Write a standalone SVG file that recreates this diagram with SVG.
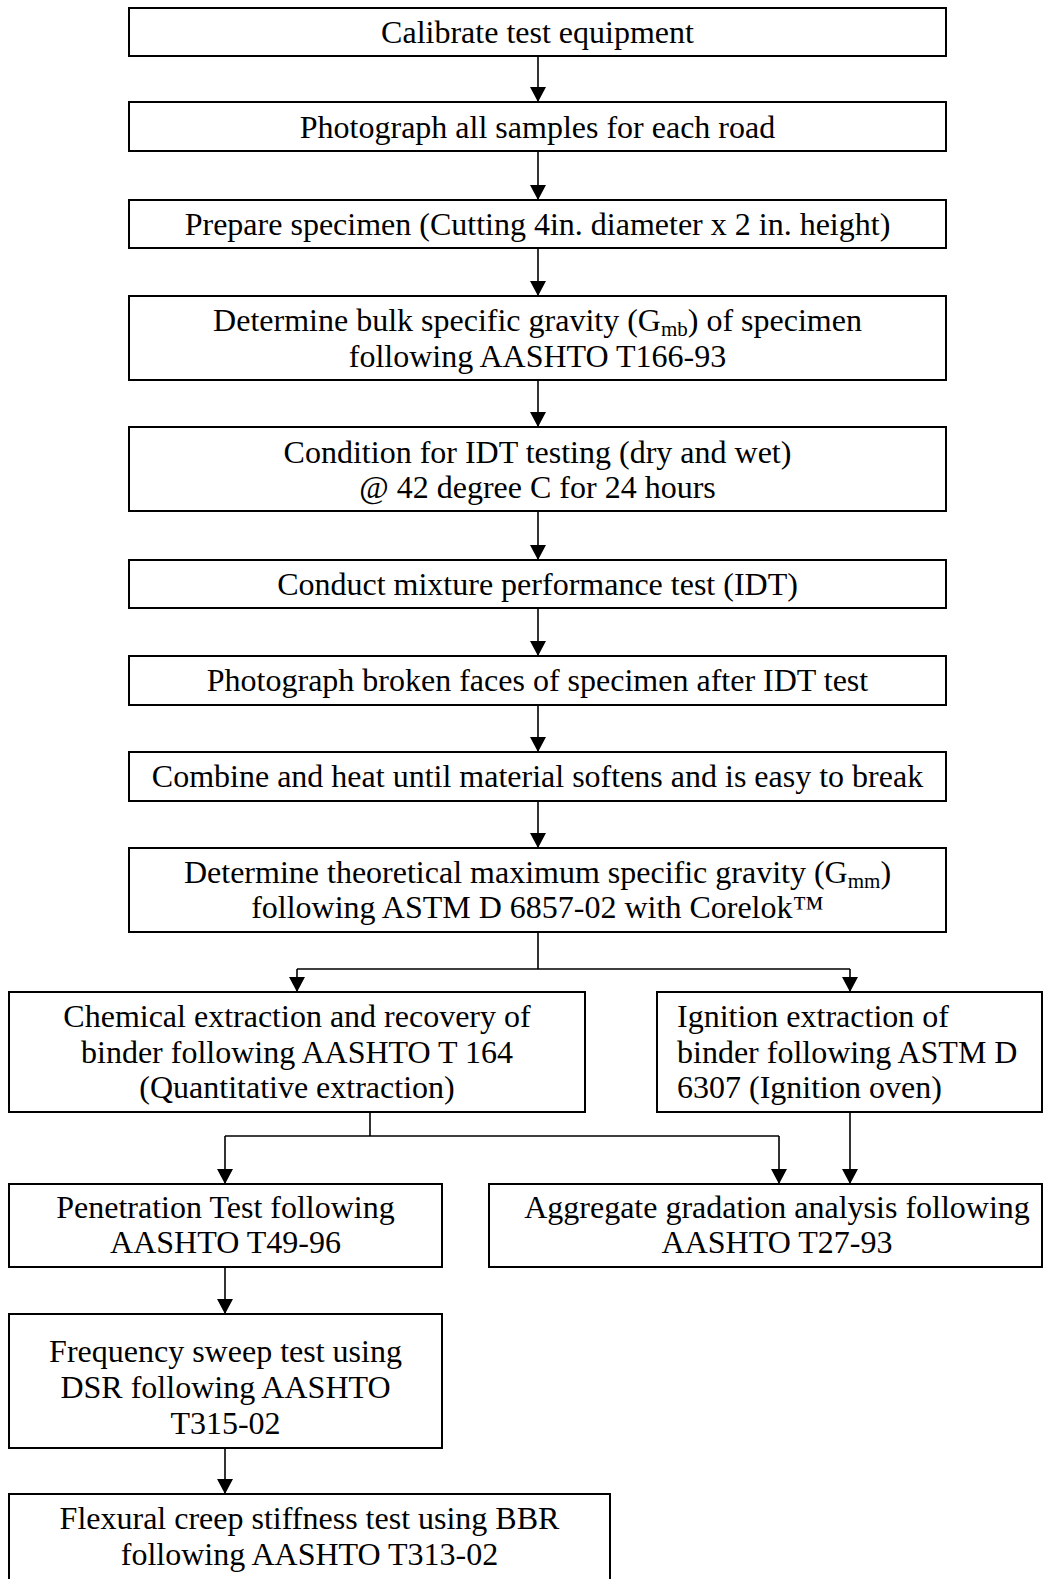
<svg xmlns="http://www.w3.org/2000/svg" width="1057" height="1579" viewBox="0 0 1057 1579">
<style>
.box{fill:#fff;stroke:#000;stroke-width:2}
.t{font-family:"Liberation Serif","Times New Roman",serif;font-size:32px;fill:#000;text-anchor:middle}
.tl{font-family:"Liberation Serif","Times New Roman",serif;font-size:32px;fill:#000;text-anchor:start}
.c{fill:none;stroke:#000;stroke-width:1.6}
</style>
<defs>
<marker id="ah" markerUnits="userSpaceOnUse" markerWidth="16" markerHeight="16" refX="15" refY="8" orient="auto">
<path d="M0,0 L15,8 L0,16 Z" fill="#000"/>
</marker>
</defs>
<rect width="1057" height="1579" fill="#fff"/>
<g id="connectors">
<path class="c" d="M538,56 V102" marker-end="url(#ah)"/>
<path class="c" d="M538,151 V200" marker-end="url(#ah)"/>
<path class="c" d="M538,248 V296" marker-end="url(#ah)"/>
<path class="c" d="M538,380 V427" marker-end="url(#ah)"/>
<path class="c" d="M538,511 V560" marker-end="url(#ah)"/>
<path class="c" d="M538,608 V656" marker-end="url(#ah)"/>
<path class="c" d="M538,705 V752" marker-end="url(#ah)"/>
<path class="c" d="M538,801 V848" marker-end="url(#ah)"/>
<path class="c" d="M538,932 V969 M297,969 H850"/>
<path class="c" d="M297,969 V992" marker-end="url(#ah)"/>
<path class="c" d="M850,969 V992" marker-end="url(#ah)"/>
<path class="c" d="M370,1112 V1136 M225,1136 H779"/>
<path class="c" d="M225,1136 V1184" marker-end="url(#ah)"/>
<path class="c" d="M779,1136 V1184" marker-end="url(#ah)"/>
<path class="c" d="M850,1112 V1184" marker-end="url(#ah)"/>
<path class="c" d="M225,1267 V1314" marker-end="url(#ah)"/>
<path class="c" d="M225,1448 V1494" marker-end="url(#ah)"/>
</g>
<g id="n1"><rect class="box" x="129" y="8" width="817" height="48"/><text class="t" x="537.5" y="43">Calibrate test equipment</text></g>
<g id="n2"><rect class="box" x="129" y="102" width="817" height="49"/><text class="t" x="537.5" y="138">Photograph all samples for each road</text></g>
<g id="n3"><rect class="box" x="129" y="200" width="817" height="48"/><text class="t" x="537.5" y="235">Prepare specimen (Cutting 4in. diameter x 2 in. height)</text></g>
<g id="n4"><rect class="box" x="129" y="296" width="817" height="84"/><text class="t" x="537.5" y="331">Determine bulk specific gravity (G<tspan font-size="21" dy="5">mb</tspan><tspan dy="-5">) of specimen</tspan></text><text class="t" x="537.5" y="367">following AASHTO T166-93</text></g>
<g id="n5"><rect class="box" x="129" y="427" width="817" height="84"/><text class="t" x="537.5" y="463">Condition for IDT testing (dry and wet)</text><text class="t" x="537.5" y="498">@ 42 degree C for 24 hours</text></g>
<g id="n6"><rect class="box" x="129" y="560" width="817" height="48"/><text class="t" x="537.5" y="595">Conduct mixture performance test (IDT)</text></g>
<g id="n7"><rect class="box" x="129" y="656" width="817" height="49"/><text class="t" x="537.5" y="691">Photograph broken faces of specimen after IDT test</text></g>
<g id="n8"><rect class="box" x="129" y="752" width="817" height="49"/><text class="t" x="537.5" y="787">Combine and heat until material softens and is easy to break</text></g>
<g id="n9"><rect class="box" x="129" y="848" width="817" height="84"/><text class="t" x="537.5" y="883">Determine theoretical maximum specific gravity (G<tspan font-size="21" dy="5">mm</tspan><tspan dy="-5">)</tspan></text><text class="t" x="537.5" y="918">following ASTM D 6857-02 with Corelok™</text></g>
<g id="n10"><rect class="box" x="9" y="992" width="576" height="120"/><text class="t" x="297" y="1027">Chemical extraction and recovery of</text><text class="t" x="297" y="1063">binder following AASHTO T 164</text><text class="t" x="297" y="1098">(Quantitative extraction)</text></g>
<g id="n11"><rect class="box" x="657" y="992" width="385" height="120"/><text class="tl" x="677" y="1027">Ignition extraction of</text><text class="tl" x="677" y="1063">binder following ASTM D</text><text class="tl" x="677" y="1098">6307 (Ignition oven)</text></g>
<g id="n12"><rect class="box" x="9" y="1184" width="433" height="83"/><text class="t" x="225.5" y="1218">Penetration Test following</text><text class="t" x="225.5" y="1253">AASHTO T49-96</text></g>
<g id="n13"><rect class="box" x="489" y="1184" width="553" height="83"/><text class="t" x="777" y="1218">Aggregate gradation analysis following</text><text class="t" x="777" y="1253">AASHTO T27-93</text></g>
<g id="n14"><rect class="box" x="9" y="1314" width="433" height="134"/><text class="t" x="225.5" y="1362">Frequency sweep test using</text><text class="t" x="225.5" y="1398">DSR following AASHTO</text><text class="t" x="225.5" y="1434">T315-02</text></g>
<g id="n15"><rect class="box" x="9" y="1494" width="601" height="87"/><text class="t" x="309.5" y="1529">Flexural creep stiffness test using BBR</text><text class="t" x="309.5" y="1565">following AASHTO T313-02</text></g>
</svg>
